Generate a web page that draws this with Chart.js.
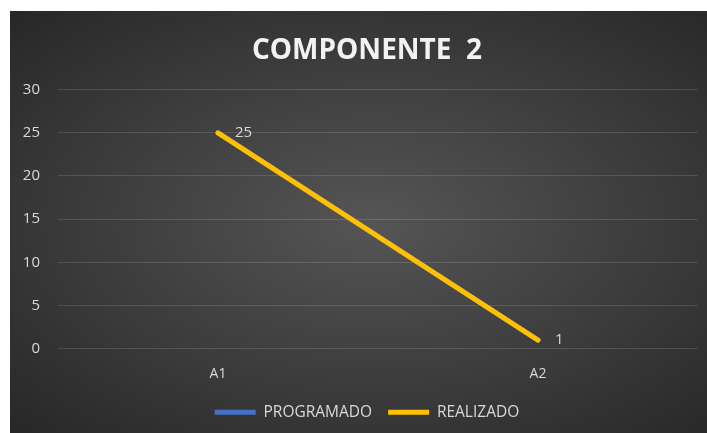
<!DOCTYPE html>
<html>
<head>
<meta charset="utf-8">
<script src="https://cdn.jsdelivr.net/npm/chart.js@4/dist/chart.umd.min.js"></script>
<style>
    html, body { margin: 0; padding: 0; background: #fff; }
    #marco {
        position: absolute; left: 10px; top: 11px; width: 697px; height: 422px;
        background: radial-gradient(ellipse at 52% 50%, #555555 0%, #3c3c3c 55%, #272727 100%);
    }
</style>
</head>
<body>
<div id="marco"><canvas id="grafico"></canvas></div>
<script>
const categorias = ['A1', 'A2'];
const programado = [25, 1];
const realizado = [25, 1];
const ticksY = [0, 5, 10, 15, 20, 25, 30];

const colorTexto = '#d9d9d9';
const fuente = "'Open Sans', 'Noto Sans', sans-serif";

// etiquetas de datos solo para REALIZADO
const etiquetas = {
    id: 'etiquetas',
    afterDatasetsDraw(chart) {
        const ctx = chart.ctx;
        const meta = chart.getDatasetMeta(1);
        ctx.save();
        ctx.font = '15px ' + fuente;
        ctx.fillStyle = colorTexto;
        ctx.textAlign = 'left';
        ctx.textBaseline = 'middle';
        meta.data.forEach((p, i) => {
            ctx.fillText(String(realizado[i]), p.x + 17, p.y);
        });
        ctx.restore();
    }
};

// titulo y leyenda van un poco a la derecha, como en Excel
const desplazar = {
    id: 'desplazar',
    afterLayout(chart) {
        [chart.titleBlock, chart.legend].forEach(caja => {
            caja.left += 13;
            caja.right += 13;
        });
    }
};

new Chart(document.getElementById('grafico'), {
    type: 'line',
    data: {
        labels: categorias,
        datasets: [{
            label: 'PROGRAMADO',
            data: programado,
            borderColor: '#4472c4',
            backgroundColor: '#4472c4',
            borderWidth: 5,
            borderCapStyle: 'round',
            pointRadius: 0,
            order: 2
        }, {
            label: 'REALIZADO',
            data: realizado,
            borderColor: '#ffc000',
            backgroundColor: '#ffc000',
            borderWidth: 5,
            borderCapStyle: 'round',
            pointRadius: 0,
            order: 1
        }]
    },
    options: {
        responsive: true,
        maintainAspectRatio: false,
        animation: false,
        layout: { padding: { left: 0, right: 9, top: 0, bottom: 3 } },
        plugins: {
            title: {
                display: true,
                text: 'COMPONENTE  2',
                color: '#f2f2f2',
                font: { family: fuente, size: 28, weight: 'bold' },
                padding: { top: 23, bottom: 22 }
            },
            legend: {
                position: 'bottom',
                labels: {
                    color: colorTexto,
                    font: { family: fuente, size: 15.5 },
                    usePointStyle: true,
                    pointStyle: 'line',
                    pointStyleWidth: 41,
                    padding: 16,
                    sort: (a, b) => a.datasetIndex - b.datasetIndex
                }
            },
            tooltip: { enabled: false }
        },
        scales: {
            x: {
                offset: true,
                afterFit: (scale) => { scale.height -= 11; },
                grid: { display: false, drawTicks: false },
                border: { display: false },
                ticks: { color: colorTexto, font: { family: fuente, size: 14 }, padding: 17 }
            },
            y: {
                min: 0,
                max: 30,
                afterBuildTicks: (scale) => { scale.ticks = ticksY.map(v => ({ value: v })); },
                afterFit: (scale) => { scale.width = 48; },
                grid: { color: 'rgba(255,255,255,0.13)', drawTicks: false },
                border: { display: false },
                ticks: { color: colorTexto, font: { family: fuente, size: 15 }, padding: 18 }
            }
        }
    },
    plugins: [etiquetas, desplazar]
});
</script>
</body>
</html>
